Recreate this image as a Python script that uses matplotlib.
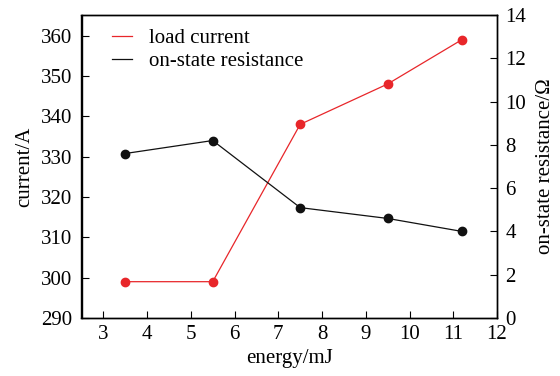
import matplotlib
matplotlib.use("Agg")
import matplotlib.pyplot as plt

energy = [3.5, 5.5, 7.5, 9.5, 11.2]
load_current = [299, 299, 338, 348, 359]
on_resistance = [7.6, 8.2, 5.1, 4.6, 4.0]
x_ticks = [3, 4, 5, 6, 7, 8, 9, 10, 11, 12]
left_ticks = [290, 300, 310, 320, 330, 340, 350, 360]
right_ticks = [0, 2, 4, 6, 8, 10, 12, 14]

plt.rcParams['font.family'] = ['Liberation Serif', 'DejaVu Serif']

fig = plt.figure(figsize=(5.6, 3.76), dpi=100)
ax = fig.add_axes([81.5/560, 1 - 318/376, (497 - 81.5)/560, (318 - 15)/376])
ax2 = ax.twinx()

red = '#e8262a'
l1, = ax.plot(energy, load_current, color=red, lw=0.9, marker='o', ms=6, label='load current')
l2, = ax2.plot(energy, on_resistance, color='#111111', lw=0.9, marker='o', ms=6, label='on-state resistance')

ax.set_xlim(2.5, 12)
ax.set_ylim(290, 365.1)
ax2.set_ylim(0, 14)
ax.set_xticks(x_ticks)
ax.set_yticks(left_ticks)
ax2.set_yticks(right_ticks)

fs = 15
ax.tick_params(axis='x', direction='in', length=5, width=0.8, labelsize=fs, pad=5)
ax.tick_params(axis='y', direction='in', length=5, width=0.8, labelsize=fs, pad=6.5)
ax2.tick_params(axis='y', direction='in', length=5, width=0.8, labelsize=fs, pad=6)
for a in (ax, ax2):
    for s in a.spines.values():
        s.set_linewidth(1.0)

ax.set_xlabel('energy/mJ', fontsize=fs, labelpad=4)
ax.set_ylabel('current/A', fontsize=fs, labelpad=5)
ax2.set_ylabel('on-state resistance/Ω', fontsize=fs, labelpad=7)

leg = ax.legend([l1, l2], ['load current', 'on-state resistance'], loc='upper left',
                bbox_to_anchor=(0.04, 1.0), frameon=False, fontsize=fs,
                handlelength=1.0, handletextpad=0.8, labelspacing=0.15, borderaxespad=0.25)
for h in leg.legend_handles:
    h.set_marker('')

fig.savefig('out.png', dpi=100)
